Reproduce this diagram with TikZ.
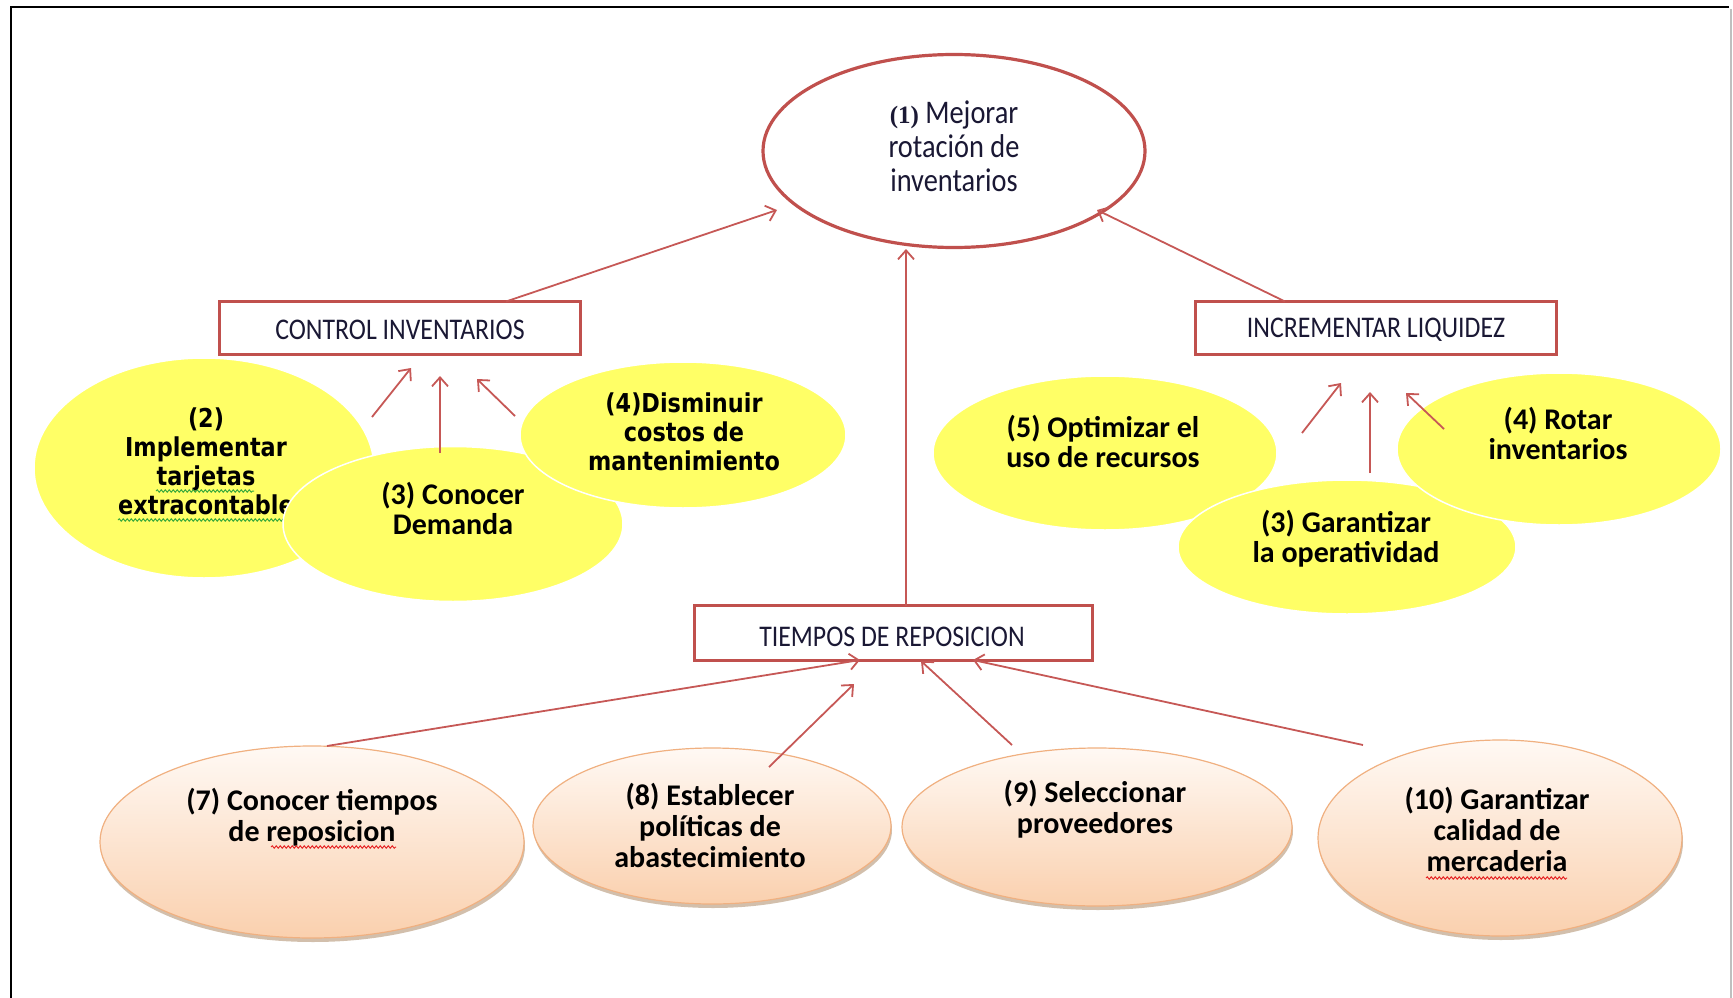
\documentclass[tikz,border=0pt]{standalone}
\usepackage{fontspec}
\setmainfont{Carlito}
\newfontfamily\tahfont[FakeStretch=0.86]{DejaVu Sans}
\newfontfamily\narrowfont[FakeStretch=0.86]{Carlito}
\newfontfamily\numfont{Liberation Serif}
\usetikzlibrary{shapes.geometric,arrows.meta,shadows,decorations.pathmorphing}

\definecolor{boxred}{RGB}{192,80,77}
\definecolor{arrred}{RGB}{198,88,86}
\definecolor{yelfill}{RGB}{255,255,102}
\definecolor{peachtop}{RGB}{255,249,244}
\definecolor{peachbot}{RGB}{250,208,174}
\definecolor{peachline}{RGB}{240,176,128}
\definecolor{inkblue}{RGB}{26,24,52}
\definecolor{spellred}{RGB}{230,40,40}
\definecolor{spellgreen}{RGB}{60,170,60}

\begin{document}
\begin{tikzpicture}[x=1pt,y=-1pt,
  every node/.style={inner sep=0pt, outer sep=0pt},
  goal/.style={ellipse, draw=boxred, line width=3.2pt, fill=white},
  goaltext/.style={align=center, text=inkblue, font=\narrowfont\fontsize{33}{34}\selectfont},
  boxnode/.style={rectangle, draw=boxred, line width=3pt, fill=white, minimum height=53pt},
  boxtext/.style={text=inkblue, font=\narrowfont\fontsize{30}{30}\selectfont},
  yel/.style={ellipse, fill=yelfill, draw=white, line width=1.5pt},
  ytxt/.style={align=center, font=\bfseries\fontsize{30}{30}\selectfont},
  ttxt/.style={align=center, font=\tahfont\bfseries\fontsize{26}{29}\selectfont},
  peach/.style={ellipse, draw=peachline, line width=1.2pt,
    top color=peachtop, bottom color=peachbot,
    drop shadow={shadow xshift=1pt, shadow yshift=-4pt, fill=brown!75!black, opacity=0.4}},
  ptxt/.style={align=center, font=\bfseries\fontsize{30}{31}\selectfont},
  conn/.style={draw=arrred, line width=1.8pt, -{Straight Barb[length=9pt,width=16pt]}},
  spell/.style={line width=1pt, decorate, decoration={snake, amplitude=1.2pt, segment length=4pt}}
]
\useasboundingbox (0,0) rectangle (1733,998);

% page frame
\draw[black, line width=2.6pt] (11,998) -- (11,7) -- (1729,7);
\draw[black!25, line width=2pt] (1731,9) -- (1731,998);

% goal and the three branch headings
\node[goal, minimum width=382pt, minimum height=193pt] (main) at (954,151) {};
\node[goaltext] (maint) at (954,146) {{\numfont\bfseries\fontsize{25}{34}\selectfont(1)} Mejorar\\rotación de\\inventarios};

\node[boxnode, minimum width=361pt] (ctrl) at (400,328) {};
\node[boxtext] (ctrlt) at (400,330) {CONTROL INVENTARIOS};
\node[boxnode, minimum width=361pt] (incr) at (1376,328) {};
\node[boxtext] (incrt) at (1376,330) {INCREMENTAR LIQUIDEZ};
\node[boxnode, minimum width=398pt, minimum height=55pt] (tiem) at (893,633) {};
\node[boxtext] (tiemt) at (892,637) {TIEMPOS DE REPOSICION};

% left group of causes
\node[yel, minimum width=340pt, minimum height=220pt] (n2) at (204,468) {};
\node[ttxt] (t2) at (206,461) {(2)\\Implementar\\tarjetas\\extracontable};
\draw[spellgreen, spell] (156,491) -- (254,491);
\draw[spellgreen, spell] (118,520) -- (290,520);
\node[yel, minimum width=340pt, minimum height=155pt] (n3) at (453,524) {};
\node[ytxt] (t3) at (453,508) {(3) Conocer\\Demanda};
\node[yel, minimum width=326pt, minimum height=146pt] (n4) at (683,435) {};
\node[ttxt] (t4) at (684,432) {(4)Disminuir\\costos de\\mantenimiento};

% right group of causes
\node[yel, minimum width=344pt, minimum height=154pt] (n5) at (1105,453) {};
\node[ytxt] (t5) at (1103,441) {(5) Optimizar el\\uso de recursos};
\node[yel, minimum width=338pt, minimum height=134pt] (n6) at (1347,547) {};
\node[ytxt] (t6) at (1346,539) {(3) Garantizar\\la operatividad};
\node[yel, minimum width=324pt, minimum height=152pt] (n7) at (1559,449) {};
\node[ytxt] (t7) at (1558,433) {(4) Rotar\\inventarios};

% replenishment causes
\node[peach, minimum width=424pt, minimum height=192pt] (p7) at (312,842) {};
\node[ptxt] (q7) at (312,817) {(7) Conocer tiempos\\de reposicion};
\draw[spellred, spell] (271,847) -- (396,847);
\node[peach, minimum width=358pt, minimum height=156pt] (p8) at (712,826) {};
\node[ptxt] (q8) at (710,825) {(8) Establecer\\políticas de\\abastecimiento};
\node[peach, minimum width=390pt, minimum height=158pt] (p9) at (1097,827) {};
\node[ptxt] (q9) at (1095,809) {(9) Seleccionar\\proveedores};
\node[peach, minimum width=364pt, minimum height=196pt] (p10) at (1500,838) {};
\node[ptxt] (q10) at (1497,829) {(10) Garantizar\\calidad de\\mercaderia};
\draw[spellred, spell] (1426,878) -- (1567,878);

% free ends of the connectors
\coordinate (m1) at (777,210);
\coordinate (m2) at (906,249);
\coordinate (m3) at (1097,210);
\coordinate (ca) at (372,417); \coordinate (cA) at (411,368);
\coordinate (cb) at (440,453); \coordinate (cB) at (440,376);
\coordinate (cc) at (515,416); \coordinate (cC) at (477,379);
\coordinate (ia) at (1302,433); \coordinate (iA) at (1341,383);
\coordinate (ib) at (1370,473); \coordinate (iB) at (1370,392);
\coordinate (ic) at (1444,429); \coordinate (iC) at (1406,393);
\coordinate (ra) at (327,746);  \coordinate (rA) at (860,660);
\coordinate (rb) at (769,767);  \coordinate (rB) at (854,684);
\coordinate (rc) at (1012,745); \coordinate (rC) at (921,661);
\coordinate (rd) at (1363,745); \coordinate (rD) at (973,660);

% connectors
\draw[conn] ([xshift=106pt]ctrl.north) -- (m1);
\draw[conn] ([xshift=13pt]tiem.north) -- (m2);
\draw[conn] ([xshift=-91pt]incr.north) -- (m3);
\draw[conn] (ca) -- (cA);
\draw[conn] (cb) -- (cB);
\draw[conn] (cc) -- (cC);
\draw[conn] (ia) -- (iA);
\draw[conn] (ib) -- (iB);
\draw[conn] (ic) -- (iC);
\draw[conn] (ra) -- (rA);
\draw[conn] (rb) -- (rB);
\draw[conn] (rc) -- (rC);
\draw[conn] (rd) -- (rD);
\end{tikzpicture}
\end{document}
